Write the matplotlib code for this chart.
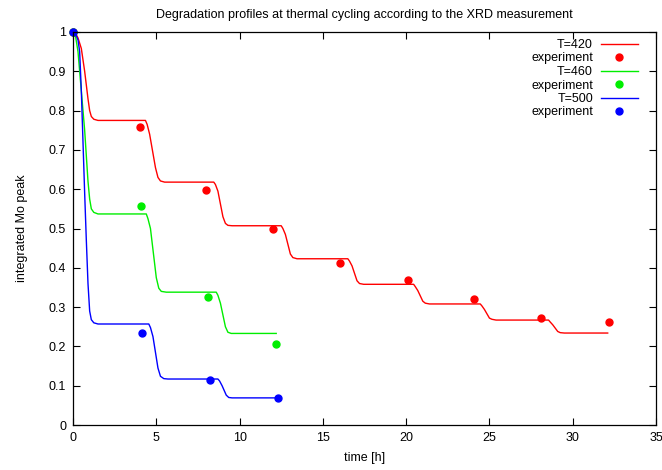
import matplotlib
matplotlib.use("Agg")
import matplotlib.pyplot as plt

plt.rcParams['font.family'] = ['Liberation Sans', 'DejaVu Sans']

# model curves (time [h], integrated Mo peak)
t420 = [0, 0.15, 0.3, 0.5, 0.7, 0.9, 1.0, 1.1, 1.25, 1.5,
        4.35, 4.45, 4.6, 4.95, 5.1, 5.25, 5.5,
        8.45, 8.55, 8.7, 9.0, 9.15, 9.3, 9.55,
        12.5, 12.6, 12.75, 13.05, 13.2, 13.45,
        16.5, 16.6, 16.75, 17.05, 17.2, 17.45,
        20.45, 20.55, 20.7, 21.0, 21.15, 21.4,
        24.45, 24.55, 24.7, 25.0, 25.15, 25.4,
        28.55, 28.65, 28.8, 29.1, 29.25, 29.5, 32.1]
y420 = [1, 0.997, 0.985, 0.958, 0.9, 0.83, 0.8, 0.785, 0.778, 0.775,
        0.775, 0.765, 0.74, 0.655, 0.63, 0.621, 0.618,
        0.618, 0.612, 0.595, 0.53, 0.513, 0.508, 0.507,
        0.507, 0.5, 0.485, 0.435, 0.426, 0.423,
        0.423, 0.417, 0.405, 0.367, 0.36, 0.358,
        0.358, 0.352, 0.342, 0.315, 0.31, 0.308,
        0.308, 0.303, 0.294, 0.272, 0.269, 0.267,
        0.267, 0.262, 0.255, 0.238, 0.235, 0.234, 0.234]

t460 = [0, 0.15, 0.3, 0.5, 0.7, 0.9, 1.0, 1.1, 1.25, 1.5,
        4.4, 4.5, 4.65, 5.0, 5.15, 5.3, 5.6,
        8.6, 8.7, 8.85, 9.15, 9.3, 9.5, 12.2]
y460 = [1, 0.99, 0.95, 0.85, 0.75, 0.62, 0.575, 0.55, 0.541, 0.537,
        0.537, 0.525, 0.5, 0.375, 0.348, 0.34, 0.338,
        0.338, 0.33, 0.31, 0.25, 0.236, 0.233, 0.233]

t500 = [0, 0.15, 0.3, 0.4, 0.5, 0.6, 0.7, 0.8, 0.9, 1.0, 1.1, 1.25, 1.5,
        4.55, 4.65, 4.8, 5.1, 5.25, 5.45, 5.7,
        8.7, 8.8, 8.95, 9.2, 9.35, 9.55, 12.3]
y500 = [1, 0.995, 0.98, 0.95, 0.85, 0.72, 0.59, 0.47, 0.36, 0.29, 0.268, 0.26, 0.257,
        0.257, 0.248, 0.225, 0.145, 0.124, 0.118, 0.117,
        0.117, 0.112, 0.1, 0.076, 0.07, 0.069, 0.069]

# experiment (XRD)
te420 = [0, 4.03, 8.0, 12.03, 16.05, 20.1, 24.1, 28.1, 32.2]
ye420 = [1, 0.757, 0.599, 0.499, 0.412, 0.369, 0.321, 0.273, 0.261]
te460 = [0, 4.09, 8.12, 12.2]
ye460 = [1, 0.557, 0.326, 0.205]
te500 = [0, 4.15, 8.24, 12.33]
ye500 = [1, 0.235, 0.114, 0.069]

c_red, c_green, c_blue = '#ff0000', '#00ee00', '#0000ff'

fig = plt.figure(figsize=(6.62, 4.70), dpi=100)
ax = fig.add_axes([73/662, 45/470, 583/662, 393/470])

ax.plot(t420, y420, color=c_red, lw=1.0, label='T=420')
ax.plot(te420, ye420, 'o', color=c_red, ms=5, clip_on=False, label='experiment')
ax.plot(t460, y460, color=c_green, lw=1.0, label='T=460')
ax.plot(te460, ye460, 'o', color=c_green, ms=5, clip_on=False, label='experiment')
ax.plot(t500, y500, color=c_blue, lw=1.0, label='T=500')
ax.plot(te500, ye500, 'o', color=c_blue, ms=5, clip_on=False, label='experiment')

ax.set_xlim(0, 35)
ax.set_ylim(0, 1)
ax.set_xticks(range(0, 36, 5))
ax.set_yticks([i / 10 for i in range(11)])
ax.set_yticklabels(['0', '0.1', '0.2', '0.3', '0.4', '0.5', '0.6', '0.7', '0.8', '0.9', '1'])
ax.tick_params(direction='in', length=5, width=0.8, top=True, right=True, labelsize=9, pad=5)
for s in ax.spines.values():
    s.set_linewidth(0.9)

ax.set_xlabel('time [h]', fontsize=9, labelpad=6)
ax.set_ylabel('integrated Mo peak', fontsize=9, labelpad=15)
ax.set_title('Degradation profiles at thermal cycling according to the XRD measurement',
             fontsize=9, pad=10)

ax.legend(loc='upper right', bbox_to_anchor=(638/662, (470-39)/470), bbox_transform=fig.transFigure,
          frameon=False, markerfirst=False, fontsize=9, labelspacing=0.12,
          handlelength=3.0, handletextpad=0.6, borderpad=0, borderaxespad=0)

fig.savefig('out.png', dpi=100)
